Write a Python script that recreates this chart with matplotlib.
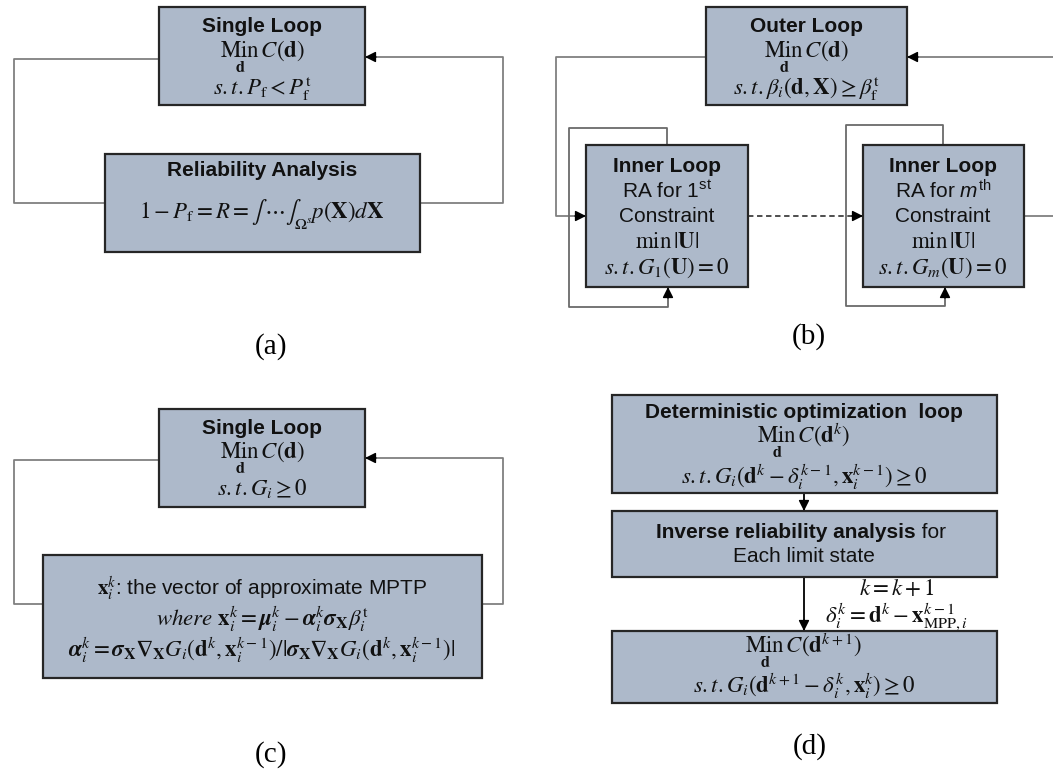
import matplotlib
matplotlib.use("Agg")
import matplotlib.pyplot as plt
from matplotlib.patches import Rectangle

plt.rcParams["mathtext.fontset"] = "stix"
plt.rcParams["mathtext.rm"] = "Liberation Sans"
plt.rcParams["mathtext.it"] = "Liberation Sans:italic"
plt.rcParams["mathtext.bf"] = "Liberation Sans:bold"
plt.rcParams["font.family"] = ["Liberation Sans", "DejaVu Sans"]

# ---- text content of each flowchart ----
panel_labels = ["(a)", "(b)", "(c)", "(d)"]

MIN_D = r"$\underset{\mathbf{d}}{\mathrm{Min}}\,C(\mathbf{d})$"

a_top = ["Single Loop", MIN_D, r"$s.t.P_{\mathrm{f}} < P_{\mathrm{f}}^{\mathrm{t}}$"]
a_bottom = ["Reliability Analysis",
            r"$1-P_{\mathrm{f}}=R=\int\,\cdots\int_{\Omega^{s}}p(\mathbf{X})d\mathbf{X}$"]

b_outer = ["Outer Loop", MIN_D,
           r"$s.t.\beta_i(\mathbf{d},\mathbf{X})\geq\beta_{\mathrm{f}}^{\mathrm{t}}$"]
b_inner1 = ["Inner Loop", r"RA for 1$^{\mathrm{st}}$", "Constraint",
            r"$\min\,|\mathbf{U}|$", r"$s.t.G_1(\mathbf{U})=0$"]
b_inner2 = ["Inner Loop", r"RA for $m^{\mathrm{th}}$", "Constraint",
            r"$\min\,|\mathbf{U}|$", r"$s.t.G_m(\mathbf{U})=0$"]

c_top = ["Single Loop", MIN_D, r"$s.t.G_i\geq0$"]
c_bottom_head = r"$\mathbf{x}_i^k$: the vector of approximate MPTP"
c_bottom = [
    r"$where\ \mathbf{x}_i^k=\boldsymbol{\mu}_i^k-\boldsymbol{\alpha}_i^k"
    r"\boldsymbol{\sigma}_{\mathbf{X}}\beta_i^{\mathrm{t}}$",
    r"$\boldsymbol{\alpha}_i^k=\boldsymbol{\sigma}_{\mathbf{X}}\mathbf{\nabla}_{\mathbf{X}}"
    r"G_i(\mathbf{d}^k,\mathbf{x}_i^{k-1})/|\boldsymbol{\sigma}_{\mathbf{X}}"
    r"\mathbf{\nabla}_{\mathbf{X}}G_i(\mathbf{d}^k,\mathbf{x}_i^{k-1})|$",
]

d_box1 = ["Deterministic optimization  loop",
          r"$\underset{\mathbf{d}}{\mathrm{Min}}\,C(\mathbf{d}^k)$",
          r"$s.t.G_i(\mathbf{d}^k-\delta_i^{k-1},\mathbf{x}_i^{k-1})\geq0$"]
d_box2_bold = "Inverse reliability analysis"
d_box2_rest = " for"
d_box2_line2 = "Each limit state"
d_update = [r"$k=k+1$",
            r"$\delta_i^k=\mathbf{d}^k-\mathbf{x}_{\mathrm{MPP},i}^{k-1}$"]
d_box3 = [r"$\underset{\mathbf{d}}{\mathrm{Min}}\,C(\mathbf{d}^{k+1})$",
          r"$s.t.G_i(\mathbf{d}^{k+1}-\delta_i^k,\mathbf{x}_i^k)\geq0$"]

# ---- styling ----
BOX_FACE = "#adb9ca"
BOX_EDGE = "#262626"
LINE = "#808080"
TXT = 15
MATH = 16.5

fig = plt.figure(figsize=(10.53, 7.70), dpi=100)
ax = fig.add_axes([0, 0, 1, 1])
ax.set_xlim(0, 1053)
ax.set_ylim(770, 0)
ax.axis("off")


def box(x0, y0, x1, y1):
    ax.add_patch(Rectangle((x0, y0), x1 - x0, y1 - y0, facecolor=BOX_FACE,
                           edgecolor=BOX_EDGE, linewidth=1.6, zorder=3))


def label(x, y, t, size, bold=False, math="stix"):
    ax.text(x, y, t, ha="center", va="center", zorder=5, fontsize=size,
            math_fontfamily=math, fontweight="bold" if bold else "normal",
            color="#111111")


def lines(x, ys, texts, bold_first=True):
    for i, (y, t) in enumerate(zip(ys, texts)):
        pure_math = t.startswith("$") and t.endswith("$") and t.count("$") == 2
        label(x, y, t, MATH if pure_math else TXT,
              bold=bold_first and i == 0,
              math="stix" if pure_math else "custom")


def connector(pts, color=LINE, ls="-", head="black"):
    xs = [p[0] for p in pts]
    ys = [p[1] for p in pts]
    ax.plot(xs, ys, color=color, lw=1.3, ls=ls, zorder=2,
            solid_capstyle="butt", clip_on=True)
    if head is None:
        return
    (xa, ya), (xb, yb) = pts[-2], pts[-1]
    L = ((xb - xa) ** 2 + (yb - ya) ** 2) ** 0.5
    ux, uy = (xb - xa) / L, (yb - ya) / L
    ax.annotate("", xy=(xb, yb), xytext=(xb - 11 * ux, yb - 11 * uy),
                arrowprops=dict(arrowstyle="-|>", color=head, lw=1.0,
                                mutation_scale=16, shrinkA=0, shrinkB=0),
                zorder=4)


# ---------------- (a) ----------------
box(159, 7, 365, 105)
lines(262, [27, 57, 89], a_top)
box(105, 154, 420, 252)
lines(262, [171, 214], a_bottom)
connector([(159, 59), (14, 59), (14, 203), (105, 203)], head=None)
connector([(420, 203), (503, 203), (503, 57), (365, 57)])

# ---------------- (b) ----------------
box(706, 7, 907, 105)
lines(806, [27, 57, 89], b_outer)
box(586, 145, 748, 287)
lines(667, [166, 191, 216, 242, 268], b_inner1)
box(863, 145, 1024, 287)
lines(943, [166, 191, 216, 242, 268], b_inner2)
connector([(706, 57), (556, 57), (556, 216), (586, 216)])
connector([(748, 216), (863, 216)], color="#404040", ls=(0, (3, 2)))
connector([(1024, 216), (1070, 216)], head=None)
connector([(1070, 57), (907, 57)])
connector([(667, 145), (667, 128), (569, 128), (569, 307), (668, 307), (668, 287)],
          color="#6a6a6a")
connector([(943, 145), (943, 125), (846, 125), (846, 306), (945, 306), (945, 287)],
          color="#6a6a6a")

# ---------------- (c) ----------------
box(159, 409, 365, 507)
lines(262, [429, 458, 489], c_top)
box(43, 555, 482, 678)
label(262, 589, c_bottom_head, TXT, math="stix")
lines(262, [619, 650], c_bottom, bold_first=False)
connector([(159, 460), (14, 460), (14, 604), (43, 604)], head=None)
connector([(482, 604), (503, 604), (503, 458), (365, 458)])

# ---------------- (d) ----------------
box(612, 395, 997, 493)
lines(804, [412, 441, 477], d_box1)
box(612, 511, 997, 577)
ax.text(916, 532, d_box2_bold, ha="right", va="center", fontsize=TXT,
        fontweight="bold", color="#111111", zorder=5)
ax.text(916, 532, d_box2_rest, ha="left", va="center", fontsize=TXT,
        color="#111111", zorder=5)
label(804, 557, d_box2_line2, TXT)
box(612, 631, 997, 703)
lines(804, [651, 686], d_box3, bold_first=False)
connector([(804, 493), (804, 511)], color="black")
connector([(804, 577), (804, 631)], color="black")
label(897, 589, d_update[0], MATH)
label(897, 617, d_update[1], MATH)

# ---------------- panel labels ----------------
for (x, y), lab in zip([(271, 347), (809, 337), (271, 755), (810, 747)],
                       panel_labels):
    ax.text(x, y, lab, ha="center", va="center", fontsize=21,
            family="Liberation Serif", color="black")

fig.savefig("out.png", dpi=100, facecolor="white")
